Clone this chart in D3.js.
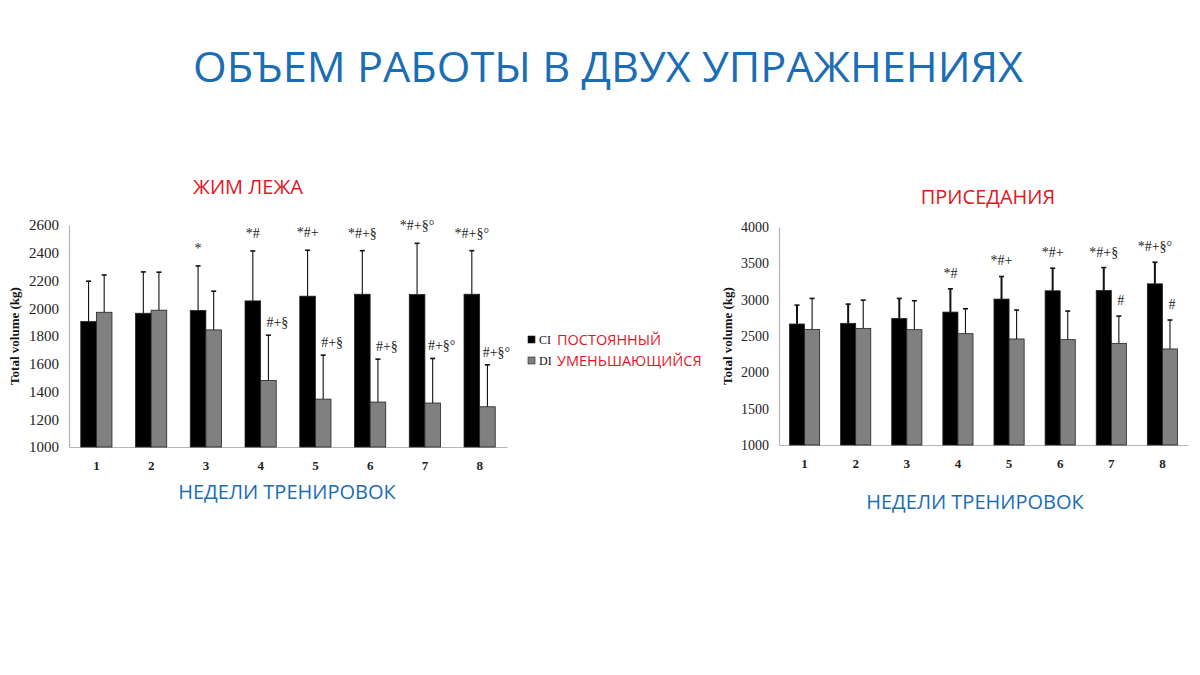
<!DOCTYPE html>
<html>
<head>
<meta charset="utf-8">
<script src="https://cdn.jsdelivr.net/npm/d3@7"></script>
<style>
  body { margin: 0; background: #fff; }
  svg { display: block; }
</style>
</head>
<body>
<svg id="chart" width="1200" height="675"></svg>
<script>
// weeks of training
const weeks = ["1", "2", "3", "4", "5", "6", "7", "8"];
const groups = ["CI", "DI"];

// bench press (ЖИМ ЛЕЖА)
const benchCI = [1904, 1964, 1984, 2053, 2087, 2101, 2099, 2101];
const benchCIerr = [2195, 2262, 2305, 2413, 2418, 2415, 2468, 2415];
const benchDI = [1971, 1986, 1844, 1480, 1345, 1324, 1317, 1290];
const benchDIerr = [2240, 2260, 2123, 1806, 1662, 1633, 1638, 1592];
const benchCImarks = ["", "", "*", "*#", "*#+", "*#+§", "*#+§°", "*#+§°"];
const benchDImarks = ["", "", "", "#+§", "#+§", "#+§", "#+§°", "#+§°"];
const benchTicks = [1000, 1200, 1400, 1600, 1800, 2000, 2200, 2400, 2600];

// squat (ПРИСЕДАНИЯ)
const squatCI = [2665, 2674, 2742, 2829, 3008, 3122, 3127, 3218];
const squatCIerr = [2925, 2939, 3017, 3149, 3319, 3433, 3442, 3515];
const squatDI = [2591, 2605, 2587, 2532, 2459, 2450, 2399, 2322];
const squatDIerr = [3017, 2994, 2985, 2875, 2857, 2843, 2774, 2720];
const squatCImarks = ["", "", "", "*#", "*#+", "*#+", "*#+§", "*#+§°"];
const squatDImarks = ["", "", "", "", "", "", "#", "#"];
const squatTicks = [1000, 1500, 2000, 2500, 3000, 3500, 4000];

const blue = "#1b6db5";
const red = "#e3161f";
const serif = "Liberation Serif, serif";
const sans = "Open Sans, Noto Sans, sans-serif";
const fill = { CI: "#000000", DI: "#808080" };

const svg = d3.select("#chart");

svg.append("text")
  .attr("x", 608).attr("y", 82)
  .attr("text-anchor", "middle")
  .attr("font-family", sans)
  .attr("font-size", 42)
  .attr("fill", blue)
  .attr("textLength", 830)
  .attr("lengthAdjust", "spacingAndGlyphs")
  .text("ОБЪЕМ РАБОТЫ В ДВУХ УПРАЖНЕНИЯХ");

function drawPanel(cfg) {
  const g = svg.append("g");

  const y = d3.scaleLinear()
    .domain(d3.extent(cfg.ticks))
    .range([cfg.bottom, cfg.top]);

  const x0 = d3.scaleBand()
    .domain(weeks)
    .range([cfg.left, cfg.right])
    .paddingInner(cfg.pad)
    .paddingOuter(cfg.pad / 2);

  const x1 = d3.scaleBand()
    .domain(groups)
    .range([0, x0.bandwidth()]);

  const rows = weeks.map((w, i) => ({
    week: w,
    vals: [
      { grp: "CI", v: cfg.ci[i], e: cfg.ciErr[i], m: cfg.ciMarks[i] },
      { grp: "DI", v: cfg.di[i], e: cfg.diErr[i], m: cfg.diMarks[i] }
    ]
  }));

  // axes
  const yAxis = d3.axisLeft(y).tickValues(cfg.ticks).tickFormat(d3.format("d"))
    .tickSize(0).tickPadding(10);
  const ya = g.append("g").attr("transform", "translate(" + cfg.left + ",0)").call(yAxis);
  ya.select(".domain").attr("stroke", "#b5b5b5").attr("stroke-width", 1.2);
  ya.selectAll("text")
    .attr("font-family", serif)
    .attr("font-size", cfg.tickSize)
    .attr("fill", "#222");

  const xAxis = d3.axisBottom(x0).tickSize(0).tickPadding(14);
  const xa = g.append("g").attr("transform", "translate(0," + cfg.bottom + ")").call(xAxis);
  xa.select(".domain").attr("stroke", "#b5b5b5").attr("stroke-width", 1.2);
  xa.selectAll("text")
    .attr("font-family", serif)
    .attr("font-weight", "bold")
    .attr("font-size", 13)
    .attr("fill", "#222");

  g.append("text")
    .attr("transform", "translate(" + cfg.yTitleX + "," + (cfg.top + cfg.bottom) / 2 + ") rotate(-90)")
    .attr("text-anchor", "middle")
    .attr("dy", "0.35em")
    .attr("font-family", serif)
    .attr("font-weight", "bold")
    .attr("font-size", 13)
    .attr("fill", "#111")
    .text("Total volume (kg)");

  const grp = g.selectAll(".grp")
    .data(rows)
    .enter().append("g")
    .attr("transform", d => "translate(" + x0(d.week) + ",0)");

  const item = grp.selectAll(".item")
    .data(d => d.vals)
    .enter().append("g");

  // error bars (upper only)
  item.append("line")
    .attr("x1", d => x1(d.grp) + x1.bandwidth() / 2)
    .attr("x2", d => x1(d.grp) + x1.bandwidth() / 2)
    .attr("y1", d => y(d.v))
    .attr("y2", d => y(d.e))
    .attr("stroke", "#111")
    .attr("stroke-width", d => d.grp === "CI" ? cfg.errW : 1.1);

  item.append("line")
    .attr("x1", d => x1(d.grp) + x1.bandwidth() / 2 - 2.5)
    .attr("x2", d => x1(d.grp) + x1.bandwidth() / 2 + 2.5)
    .attr("y1", d => y(d.e))
    .attr("y2", d => y(d.e))
    .attr("stroke", "#111")
    .attr("stroke-width", 1.6);

  item.append("rect")
    .attr("x", d => x1(d.grp))
    .attr("y", d => y(d.v))
    .attr("width", x1.bandwidth())
    .attr("height", d => y(y.domain()[0]) - y(d.v))
    .attr("fill", d => fill[d.grp])
    .attr("stroke", "#222")
    .attr("stroke-width", 0.8);

  // significance marks (U+FE0E keeps "*" as a plain text glyph)
  item.append("text")
    .attr("x", d => x1(d.grp) + x1.bandwidth() / 2 + (d.grp === "DI" ? cfg.diDx : 0))
    .attr("y", d => y(d.e) - (d.grp === "CI" ? cfg.ciDy : cfg.diDy))
    .attr("text-anchor", "middle")
    .attr("font-family", serif)
    .attr("font-size", 14)
    .attr("fill", "#222")
    .text(d => d.m.replace("*", "*\uFE0E"));

  // panel titles
  g.append("text")
    .attr("x", cfg.titleX).attr("y", cfg.titleY)
    .attr("text-anchor", "middle")
    .attr("font-family", sans)
    .attr("font-size", 20)
    .attr("fill", red)
    .text(cfg.title);

  g.append("text")
    .attr("x", cfg.xTitleX).attr("y", cfg.xTitleY)
    .attr("text-anchor", "middle")
    .attr("font-family", sans)
    .attr("font-size", 20)
    .attr("fill", blue)
    .text("НЕДЕЛИ ТРЕНИРОВОК");
}

drawPanel({
  left: 69, right: 507, top: 225, bottom: 447, pad: 0.43,
  ticks: benchTicks, tickSize: 15, yTitleX: 14, errW: 1.1,
  ci: benchCI, ciErr: benchCIerr, di: benchDI, diErr: benchDIerr,
  ciMarks: benchCImarks, diMarks: benchDImarks,
  ciDy: 13, diDy: 8, diDx: 9,
  title: "ЖИМ ЛЕЖА", titleX: 248, titleY: 194,
  xTitleX: 287, xTitleY: 499
});

drawPanel({
  left: 779, right: 1188, top: 227, bottom: 445, pad: 0.41,
  ticks: squatTicks, tickSize: 14, yTitleX: 727, errW: 2,
  ci: squatCI, ciErr: squatCIerr, di: squatDI, diErr: squatDIerr,
  ciMarks: squatCImarks, diMarks: squatDImarks,
  ciDy: 11, diDy: 11, diDx: 2,
  title: "ПРИСЕДАНИЯ", titleX: 988, titleY: 204,
  xTitleX: 975, xTitleY: 509
});

// legend
const legend = svg.append("g").selectAll("g")
  .data([
    { grp: "CI", label: "ПОСТОЯННЫЙ" },
    { grp: "DI", label: "УМЕНЬШАЮЩИЙСЯ" }
  ])
  .enter().append("g")
  .attr("transform", (d, i) => "translate(528," + (340 + i * 21) + ")");

legend.append("rect")
  .attr("x", 0).attr("y", -4)
  .attr("width", 7).attr("height", 7)
  .attr("fill", d => fill[d.grp])
  .attr("stroke", "#222")
  .attr("stroke-width", 0.6);

legend.append("text")
  .attr("x", 11).attr("y", 4)
  .attr("font-family", serif)
  .attr("font-size", 12)
  .attr("fill", "#111")
  .text(d => d.grp);

legend.append("text")
  .attr("x", 29).attr("y", 5)
  .attr("font-family", sans)
  .attr("font-size", 14.5)
  .attr("fill", red)
  .text(d => d.label);
</script>
</body>
</html>
